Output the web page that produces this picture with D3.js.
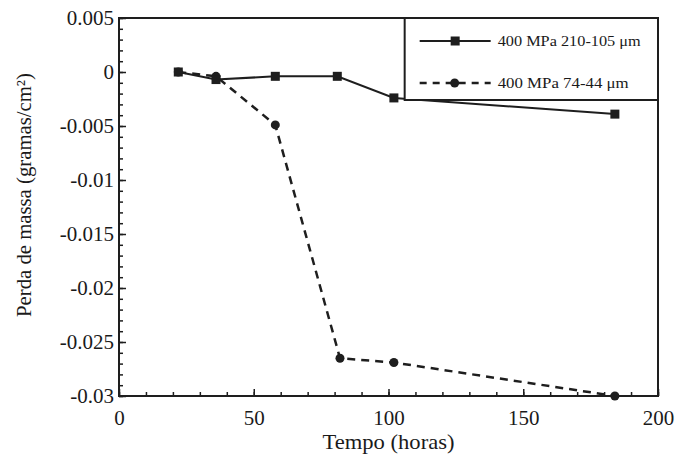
<!DOCTYPE html>
<html>
<head>
<meta charset="utf-8">
<script src="https://cdn.jsdelivr.net/npm/d3@7"></script>
<style>
  html, body { margin: 0; padding: 0; background: #ffffff; }
  svg { display: block; }
  text { font-family: "Liberation Serif", "DejaVu Serif", serif; fill: #1a1a1a; }
</style>
</head>
<body>
<svg id="chart" width="679" height="464"></svg>
<script>
// ---- data ----
const seriesNames = ["400 MPa 210-105 \u03bcm", "400 MPa 74-44 \u03bcm"];
const timeA = [22, 36, 58, 81, 102, 184];
const massA = [0, -0.0007, -0.0004, -0.0004, -0.0024, -0.0039];
const timeB = [22, 36, 58, 82, 102, 184];
const massB = [0, -0.0004, -0.0049, -0.0265, -0.0269, -0.0300];
const xTicks = [0, 50, 100, 150, 200];
const yTicks = [0.005, 0, -0.005, -0.01, -0.015, -0.02, -0.025, -0.03];
const yTickLabels = ["0.005", "0", "-0.005", "-0.01", "-0.015", "-0.02", "-0.025", "-0.03"];
const xLabel = "Tempo (horas)";
const yLabel = "Perda de massa (gramas/cm\u00b2)";

// ---- layout ----
const W = 679, H = 464;
const m = { left: 119, right: 21, top: 18, bottom: 68 };
const iw = W - m.left - m.right, ih = H - m.top - m.bottom;
const ink = "#1e1e1e";

const svg = d3.select("#chart");
const g = svg.append("g").attr("transform", `translate(${m.left},${m.top})`);

const x = d3.scaleLinear().domain([0, 200]).range([0, iw]);
const y = d3.scaleLinear().domain([-0.03, 0.005]).range([ih, 0]);

// minor ticks (inward)
const xMinor = d3.range(0, 201, 10);
const yMinor = d3.range(-30, 6, 1).map(v => v / 1000);

const styleTicks = s => {
  s.select(".domain").remove();
  s.selectAll("line").attr("stroke", ink).attr("stroke-width", 1.5);
  s.selectAll("text").attr("font-size", 21).attr("fill", ink)
    .style("font-family", '"Liberation Serif", serif');
};

g.append("g").attr("transform", `translate(0,${ih})`)
  .call(d3.axisBottom(x).tickValues(xMinor).tickSize(-4).tickFormat(""))
  .call(styleTicks);
g.append("g").attr("transform", `translate(0,${ih})`)
  .call(d3.axisBottom(x).tickValues(xTicks).tickSize(-7).tickPadding(14).tickFormat(d3.format("d")))
  .call(styleTicks);

g.append("g")
  .call(d3.axisLeft(y).tickValues(yMinor).tickSize(-4).tickFormat(""))
  .call(styleTicks);
g.append("g")
  .call(d3.axisLeft(y).tickValues(yTicks).tickSize(-7).tickPadding(5).tickFormat((d, i) => yTickLabels[i]))
  .call(styleTicks);

// frame
g.append("rect").attr("x", 0).attr("y", 0).attr("width", iw).attr("height", ih)
  .attr("fill", "none").attr("stroke", ink).attr("stroke-width", 2);

// lines
const dataA = timeA.map((t, i) => ({ t, v: massA[i] }));
const dataB = timeB.map((t, i) => ({ t, v: massB[i] }));
const line = d3.line().x(d => x(d.t)).y(d => y(d.v));

g.append("path").datum(dataB).attr("d", line)
  .attr("fill", "none").attr("stroke", ink).attr("stroke-width", 2.5)
  .attr("stroke-dasharray", "8,6");
g.selectAll("circle.b").data(dataB).enter().append("circle").attr("class", "b")
  .attr("cx", d => x(d.t)).attr("cy", d => y(d.v)).attr("r", 4.5).attr("fill", ink);

g.append("path").datum(dataA).attr("d", line)
  .attr("fill", "none").attr("stroke", ink).attr("stroke-width", 2);
g.selectAll("rect.a").data(dataA).enter().append("rect").attr("class", "a")
  .attr("x", d => x(d.t) - 4.5).attr("y", d => y(d.v) - 4.5)
  .attr("width", 9).attr("height", 9).attr("fill", ink);

// legend
const lg = g.append("g").attr("transform", `translate(${x(106)}, 0)`);
const lw = iw - x(106), lh = 82;
lg.append("rect").attr("x", 0).attr("y", 0).attr("width", lw).attr("height", lh)
  .attr("fill", "#ffffff").attr("stroke", ink).attr("stroke-width", 2);
// entry 1
lg.append("line").attr("x1", 15).attr("x2", 86).attr("y1", 23).attr("y2", 23)
  .attr("stroke", ink).attr("stroke-width", 2);
lg.append("rect").attr("x", 46).attr("y", 18.5).attr("width", 9).attr("height", 9).attr("fill", ink);
lg.append("text").attr("x", 93).attr("y", 28).attr("font-size", 15)
  .attr("textLength", 143).attr("lengthAdjust", "spacingAndGlyphs")
  .text(seriesNames[0]);
// entry 2
lg.append("line").attr("x1", 15).attr("x2", 86).attr("y1", 65).attr("y2", 65)
  .attr("stroke", ink).attr("stroke-width", 2.5).attr("stroke-dasharray", "7,6");
lg.append("circle").attr("cx", 50).attr("cy", 65).attr("r", 4.5).attr("fill", ink);
lg.append("text").attr("x", 93).attr("y", 70).attr("font-size", 15)
  .attr("textLength", 131).attr("lengthAdjust", "spacingAndGlyphs")
  .text(seriesNames[1]);

// axis titles
svg.append("text").attr("x", m.left + iw / 2).attr("y", 449).attr("text-anchor", "middle")
  .attr("font-size", 21).attr("textLength", 132).attr("lengthAdjust", "spacingAndGlyphs")
  .text(xLabel);
svg.append("text").attr("transform", `translate(31,195) rotate(-90)`).attr("text-anchor", "middle")
  .attr("font-size", 21).attr("textLength", 244).attr("lengthAdjust", "spacingAndGlyphs")
  .text(yLabel);
</script>
</body>
</html>
